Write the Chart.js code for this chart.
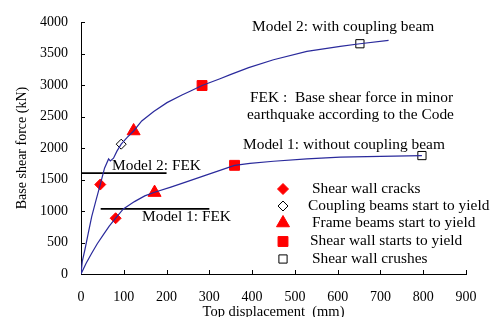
<!DOCTYPE html>
<html>
<head>
<meta charset="utf-8">
<script src="https://cdn.jsdelivr.net/npm/chart.js@4.4.1/dist/chart.umd.min.js"></script>
<style>
  html, body { margin: 0; padding: 0; background: #fff; }
  #wrap { width: 498px; height: 317px; }
</style>
</head>
<body>
<div id="wrap"><canvas id="pushover" width="498" height="317"></canvas></div>
<script>
// pushover curves, top displacement (mm) vs base shear (kN)
const model2Disp  = [0, 3, 9, 17, 25, 35, 45, 55, 64.5, 68.5, 76, 84, 94, 108, 123, 142, 170, 201, 236, 255, 283, 325, 349, 392, 450, 528, 606, 652, 719];
const model2Shear = [0, 200, 381, 647, 910, 1170, 1420, 1680, 1827, 1796, 1838, 1950, 2061, 2170, 2270, 2430, 2580, 2720, 2840, 2900, 2992, 3100, 3165, 3275, 3401, 3533, 3612, 3655, 3707];
const model1Disp  = [0, 12, 25, 38, 52, 66, 81, 99, 125, 149, 172, 210, 248, 294, 359, 395, 450, 528, 606, 700, 797];
const model1Shear = [0, 170, 329, 480, 620, 760, 885, 1033, 1149, 1240, 1298, 1380, 1467, 1573, 1725, 1757, 1790, 1827, 1854, 1868, 1880];

// FEK lines
const fek2 = { from: 0, to: 200, shear: 1600 };
const fek1 = { from: 46, to: 300, shear: 1033 };

// damage events [disp, shear]
const wallCracks    = [[45, 1420], [81, 885]];
const couplingYield = [[94, 2061]];
const frameYield    = [[123, 2270], [172, 1292]];
const wallYield     = [[283, 2992], [359, 1725]];
const wallCrush     = [[652, 3655], [797, 1880]];

const xTicks = [0, 100, 200, 300, 400, 500, 600, 700, 800, 900];
const yTicks = [0, 500, 1000, 1500, 2000, 2500, 3000, 3500, 4000];

const legendLabels = ['Shear wall cracks', 'Coupling beams start to yield', 'Frame beams start to yield', 'Shear wall starts to yield', 'Shear wall crushes'];

const FONT = 'Liberation Serif, Times New Roman, serif';
const LINE = '#2a2a9c';
const STRETCH = 1.1; // the reference text is a bit wide

const toPts = (xs, ys) => xs.map((x, i) => ({ x: x, y: ys[i] }));
const pairPts = arr => arr.map(p => ({ x: p[0], y: p[1] }));

const markerStyles = [
  { pointStyle: 'rectRot', radius: 5.5, bg: '#ff0000', border: '#ff0000', bw: 1 },
  { pointStyle: 'rectRot', radius: 5, bg: '#ffffff', border: '#000000', bw: 1 },
  { pointStyle: 'triangle', radius: 7.5, bg: '#ff0000', border: '#ff0000', bw: 1 },
  { pointStyle: 'rect', radius: 7, bg: '#ff0000', border: '#ff0000', bw: 1 },
  { pointStyle: 'rect', radius: 5.8, bg: '#ffffff', border: '#000000', bw: 1 }
];
const markerData = [wallCracks, couplingYield, frameYield, wallYield, wallCrush];

const lineSet = (data, color, width) => ({
  type: 'scatter', data: data, showLine: true, borderColor: color, borderWidth: width,
  pointRadius: 0, pointHoverRadius: 0, tension: 0, fill: false
});

const datasets = [
  lineSet(toPts(model2Disp, model2Shear), LINE, 1.2),
  lineSet(toPts(model1Disp, model1Shear), LINE, 1.2),
  lineSet([{ x: fek2.from, y: fek2.shear }, { x: fek2.to, y: fek2.shear }], '#000', 1.8),
  lineSet([{ x: fek1.from, y: fek1.shear }, { x: fek1.to, y: fek1.shear }], '#000', 1.8)
];
markerData.forEach((d, i) => {
  const m = markerStyles[i];
  datasets.push({
    type: 'scatter', data: pairPts(d), showLine: false,
    pointStyle: m.pointStyle, pointRadius: m.radius, pointHoverRadius: m.radius,
    pointBackgroundColor: m.bg, pointBorderColor: m.border, pointBorderWidth: m.bw
  });
});

// inward ticks on both axes
const innerTicks = {
  id: 'innerTicks',
  afterDraw(chart) {
    const ctx = chart.ctx, xs = chart.scales.x, ys = chart.scales.y;
    const a = chart.chartArea;
    ctx.save();
    ctx.strokeStyle = '#000';
    ctx.lineWidth = 1;
    ctx.beginPath();
    xTicks.forEach(v => {
      if (v === 0) return;
      const px = Math.round(xs.getPixelForValue(v)) + 0.5;
      ctx.moveTo(px, a.bottom);
      ctx.lineTo(px, a.bottom - 4);
    });
    yTicks.forEach(v => {
      if (v === 0) return;
      const py = Math.round(ys.getPixelForValue(v)) + 0.5;
      ctx.moveTo(a.left, py);
      ctx.lineTo(a.left + 4, py);
    });
    ctx.stroke();
    ctx.restore();
  }
};

function wideText(ctx, txt, x, y) {
  ctx.save();
  ctx.translate(x, y);
  ctx.scale(STRETCH, 1);
  ctx.fillText(txt, 0, 0);
  ctx.restore();
}

// annotations and legend
const notes = {
  id: 'notes',
  afterDraw(chart) {
    const ctx = chart.ctx;
    ctx.save();
    ctx.fillStyle = '#000';
    ctx.textBaseline = 'middle';
    ctx.textAlign = 'left';
    ctx.font = '14px ' + FONT;
    wideText(ctx, 'Model 2: with coupling beam', 252, 27);
    wideText(ctx, 'FEK :  Base shear force in minor', 250, 98);
    wideText(ctx, 'earthquake according to the Code', 247, 115);
    wideText(ctx, 'Model 1: without coupling beam', 243, 145);
    wideText(ctx, 'Model 2: FEK', 112, 166);
    wideText(ctx, 'Model 1: FEK', 142, 217);

    const rows = [189, 206, 223, 241.5, 259];
    const textX = [312, 308, 312, 310, 312];
    rows.forEach((y, i) => {
      const m = markerStyles[i];
      ctx.fillStyle = m.bg;
      ctx.strokeStyle = m.border;
      ctx.lineWidth = m.bw;
      Chart.helpers.drawPoint(ctx, { pointStyle: m.pointStyle, radius: m.radius, borderWidth: m.bw }, 283, y);
      ctx.fillStyle = '#000';
      wideText(ctx, legendLabels[i], textX[i], y);
    });
    ctx.restore();
  }
};

new Chart(document.getElementById('pushover'), {
  type: 'scatter',
  data: { datasets: datasets },
  options: {
    responsive: false,
    animation: false,
    devicePixelRatio: 1,
    layout: { padding: { top: 22, right: 32, left: 0, bottom: 0 } },
    plugins: { legend: { display: false }, tooltip: { enabled: false } },
    scales: {
      x: {
        type: 'linear', min: 0, max: 900,
        afterFit: s => { s.height = 43; },
        afterBuildTicks: s => { s.ticks = xTicks.map(v => ({ value: v })); },
        grid: { display: true, drawOnChartArea: false, drawTicks: false },
        border: { display: true, color: '#000', width: 1 },
        ticks: { color: '#000', padding: 15, maxRotation: 0, callback: v => String(v), font: { family: FONT, size: 14 } },
        title: { display: true, text: 'Top displacement  (mm)', color: '#000', padding: { top: 0, bottom: -4 }, font: { family: FONT, size: 14.5 } }
      },
      y: {
        type: 'linear', min: 0, max: 4000,
        afterFit: s => { s.width = 81; },
        afterBuildTicks: s => { s.ticks = yTicks.map(v => ({ value: v })); },
        grid: { display: true, drawOnChartArea: false, drawTicks: false },
        border: { display: true, color: '#000', width: 1 },
        ticks: { color: '#000', padding: 13, callback: v => String(v), font: { family: FONT, size: 14 } },
        title: { display: true, text: 'Base shear force (kN)', color: '#000', padding: { top: 14, bottom: 0 }, font: { family: FONT, size: 14 } }
      }
    }
  },
  plugins: [innerTicks, notes]
});
</script>
</body>
</html>
